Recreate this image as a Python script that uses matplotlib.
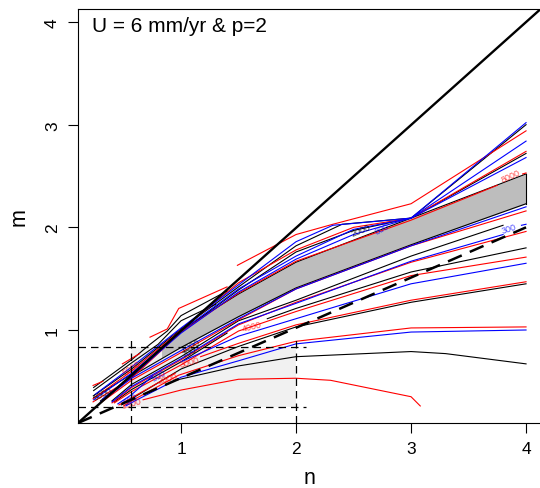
import matplotlib
matplotlib.use('Agg')
import matplotlib.pyplot as plt

plt.rcParams['font.family'] = ['Liberation Sans', 'DejaVu Sans']
nan = float('nan')

# lines that bunch up at n=3 and fan out again
red_a_n = [0.235, 0.32, nan, 0.49, 0.64, nan, 0.73, 0.88, 0.98, 1.4]
red_a_m = [0.46, 0.50, nan, 0.67, 0.77, nan, 0.93, 1.01, 1.21, 1.42]
black_a_n = [0.24, 0.57, 0.73, 0.88, 1.0, 1.4]
black_a_m = [0.44, 0.71, 0.86, 0.99, 1.14, 1.38]
black_c_n = [0.24, 0.57, 0.8, 1.0, 1.3]
black_c_m = [0.41, 0.68, 0.86, 1.09, 1.25]
red_b_n = [1.49, 2.0, 2.32, 3.0, 4.0]
red_b_m = [1.63, 1.93, 2.03, 2.23, 2.94]
blue_a_n = [0.25, 0.57, 1.0, 1.5, 2.0, 2.32, 3.0, 4.0]
blue_a_m = [0.37, 0.64, 1.02, 1.44, 1.86, 2.02, 2.09, 3.02]
black_d_n = [0.24, 0.57, 1.0, 1.5, 2.0, 2.4, 3.0, 4.0]
black_d_m = [0.36, 0.62, 1.01, 1.42, 1.82, 2.03, 2.09, 3.0]
red_c_n = [0.235, 0.57, 1.0, 1.5, 2.0, 2.5, 3.0, 4.0]
red_c_m = [0.33, 0.60, 1.0, 1.46, 1.78, 2.0, 2.09, 2.74]
blue_b_n = [0.24, 0.57, 1.0, 1.5, 2.0, 2.5, 3.0, 4.0]
blue_b_m = [0.32, 0.58, 0.99, 1.40, 1.72, 1.98, 2.09, 2.84]
black_e_n = [0.24, 0.57, 1.0, 1.5, 2.0, 2.5, 3.0, 4.0]
black_e_m = [0.34, 0.57, 0.98, 1.39, 1.76, 1.97, 2.09, 2.72]
blue_c_n = [0.32, 0.57, 1.0, 1.5, 2.0, 2.5, 3.0, 4.0]
blue_c_m = [0.33, 0.55, 0.97, 1.37, 1.69, 1.93, 2.09, 2.68]
black_band_top_n = [0.32, 0.57, 1.0, 1.5, 2.0, 3.0, 4.0]
black_band_top_m = [0.32, 0.54, 1.0, 1.35, 1.66, 2.09, 2.52]
red_top_n = [0.235, 0.57, 1.0, 1.5, 2.0, 3.0, 3.75, nan, 3.97, 4.0]
red_top_m = [0.30, 0.53, 0.98, 1.36, 1.67, 2.07, 2.41, nan, 2.52, 2.53]

# lines along the lower edge of the grey band and below it
black_band_low_n = [0.3, 0.57, 1.0, 1.5, 2.0, 3.0, 4.0]
black_band_low_m = [0.31, 0.55, 0.83, 1.13, 1.41, 1.83, 2.23]
blue_g_n = [0.3, 0.57, 1.0, 1.5, 2.0, 3.0, 4.0]
blue_g_m = [0.30, 0.53, 0.80, 1.11, 1.40, 1.82, 2.20]
red_g_n = [0.3, 0.57, 1.0, 1.5, 2.0, 3.0, 4.0]
red_g_m = [0.29, 0.51, 0.78, 1.10, 1.40, 1.82, 2.16]
black_h_n = [0.4, 0.57, 1.0, 1.5, 2.0, 3.0, 3.8, nan, 4.0]
black_h_m = [0.31, 0.47, 0.74, 1.09, 1.29, 1.72, 2.02, nan, 2.06]
blue_h_n = [0.4, 0.57, 1.0, 1.5, 2.0, 3.0, 3.8, nan, 3.96, 4.0]
blue_h_m = [0.30, 0.45, 0.72, 1.06, 1.26, 1.67, 1.93, nan, 2.02, 2.03]
red_h_n = [0.4, 0.57, 1.0, 1.5, 2.0, 3.0, 4.0]
red_h_m = [0.29, 0.44, 0.71, 1.05, 1.27, 1.66, 1.96]
black_i_n = [0.42, 0.57, 1.0, 1.4, nan, 1.75, 2.0, 3.0, 4.0]
black_i_m = [0.30, 0.42, 0.69, 0.97, nan, 1.11, 1.21, 1.565, 1.80]
red_i_n = [0.42, 0.57, 1.0, 1.5, 2.0, 3.0, 4.0]
red_i_m = [0.29, 0.40, 0.66, 0.99, 1.18, 1.53, 1.71]
blue_i_n = [0.45, 0.57, 0.75, nan, 1.0, 1.5, 2.0, 3.0, 4.0]
blue_i_m = [0.28, 0.37, 0.55, nan, 0.69, 0.94, 1.11, 1.45, 1.65]
red_j_n = [0.46, 0.57, 0.95, nan, 1.17, 1.5, 2.0, 3.0, 4.0]
red_j_m = [0.27, 0.34, 0.58, nan, 0.74, 0.87, 1.05, 1.29, 1.47]
black_j_n = [0.48, 0.57, 1.0, 1.5, 2.0, 3.0, 4.0]
black_j_m = [0.27, 0.33, 0.62, 0.84, 1.03, 1.27, 1.45]
red_k_n = [0.5, 0.57, 0.98, 1.5, 2.0, 3.0, 4.0]
red_k_m = [0.26, 0.31, 0.56, 0.75, 0.89, 1.02, 1.03]
blue_k_n = [0.52, 0.6, 1.0, 1.5, 2.0, 3.0, 4.0]
blue_k_m = [0.26, 0.31, 0.54, 0.70, 0.865, 0.98, 1.0]
black_l_n = [0.95, 1.5, 2.0, 3.0, 3.3, 4.0]
black_l_m = [0.51, 0.65, 0.74, 0.79, 0.77, 0.67]
red_l_n = [0.67, 1.0, 1.5, 2.0, 2.3, 3.0, 3.08]
red_l_m = [0.32, 0.415, 0.52, 0.53, 0.51, 0.35, 0.26]

band_top_n = [0.83, 1.0, 1.5, 2.0, 3.0, 4.0]
band_top_m = [0.83, 1.0, 1.35, 1.66, 2.09, 2.52]
band_low_m = [0.73, 0.83, 1.13, 1.41, 1.83, 2.23]

ref_n = [0.104, 4.12]
one_to_one_m = [0.094, 4.12]
half_n = [0.104, 4.0]
half_m = [0.094, 2.0]

box_n = [0.565, 2.0]
box_m = [0.25, 0.835]

label_text = ['8000', '300', '2000', '800', '4000', '3000', '2000', '500', '700', '1000', '5000', '1500', '500', '5000']
label_n = [3.87, 3.85, 2.56, 2.75, 1.62, 1.07, 0.88, 0.81, 1.07, 1.08, 0.57, 0.57, 0.56, 0.32]
label_m = [2.50, 1.99, 1.97, 1.99, 1.04, 0.69, 0.53, 0.56, 0.79, 0.85, 0.63, 0.29, 0.33, 0.38]
label_rot = [24, 18, 22, 28, 14, 16, 14, 30, 25, 25, 32, 15, 32, 25]
label_col = ['red', 'blue', 'black', 'blue', 'red', 'red', 'red', 'blue', 'black', 'black', 'red', 'red', 'blue', 'black']

red_lines = [(red_a_n, red_a_m), (red_b_n, red_b_m), (red_c_n, red_c_m), (red_top_n, red_top_m),
             (red_g_n, red_g_m), (red_h_n, red_h_m), (red_i_n, red_i_m), (red_j_n, red_j_m),
             (red_k_n, red_k_m), (red_l_n, red_l_m)]
blue_lines = [(blue_a_n, blue_a_m), (blue_b_n, blue_b_m), (blue_c_n, blue_c_m), (blue_g_n, blue_g_m),
              (blue_h_n, blue_h_m), (blue_i_n, blue_i_m), (blue_k_n, blue_k_m)]
black_lines = [(black_a_n, black_a_m), (black_c_n, black_c_m), (black_d_n, black_d_m), (black_e_n, black_e_m),
               (black_band_top_n, black_band_top_m), (black_band_low_n, black_band_low_m),
               (black_h_n, black_h_m), (black_i_n, black_i_m), (black_j_n, black_j_m), (black_l_n, black_l_m)]

fig = plt.figure(figsize=(5.4, 4.89), dpi=100)
ax = fig.add_axes([78 / 540, 1 - 424 / 489, 463 / 540, 414 / 489])

ax.fill_between(box_n, box_m[0], box_m[1], color='#f1f1f1', lw=0, zorder=1)
ax.fill_between(band_top_n, band_low_m, band_top_m, color='#bdbdbd', lw=0, zorder=2)
ax.plot([4, 4], [band_low_m[-1], band_top_m[-1]], color='black', lw=0.8, zorder=3)

for n, m in black_lines:
    ax.plot(n, m, color='black', lw=0.8, zorder=3)
for n, m in red_lines:
    ax.plot(n, m, color='red', lw=0.8, zorder=3)
for n, m in blue_lines:
    ax.plot(n, m, color='blue', lw=0.8, zorder=3)

for t, x, y, r, c in zip(label_text, label_n, label_m, label_rot, label_col):
    ax.text(x, y, t, color=c, fontsize=6.5, rotation=r, ha='center', va='center', alpha=0.7, zorder=4)

ax.plot(ref_n, one_to_one_m, color='black', lw=1.7, zorder=5)
ax.plot(half_n, half_m, color='black', lw=1.8, dashes=(6, 3.5), zorder=5)

# dashed guide lines
ax.plot([0.104, 2.09], [box_m[1], box_m[1]], color='black', lw=0.9, dashes=(6, 4), zorder=5)
ax.plot([0.104, 2.09], [box_m[0], box_m[0]], color='black', lw=0.9, dashes=(6, 4), zorder=5)
ax.plot([box_n[0], box_n[0]], [0.094, 0.92], color='black', lw=0.9, dashes=(6, 4), zorder=5)
ax.plot([box_n[1], box_n[1]], [0.094, 0.93], color='black', lw=0.9, dashes=(6, 4), zorder=5)

ax.set_xlim(0.104, 4.13)
ax.set_ylim(0.094, 4.127)
ax.set_xticks([1, 2, 3, 4])
ax.set_yticks([1, 2, 3, 4])
ax.tick_params(axis='both', length=7, width=0.8, labelsize=12.5, pad=6)
plt.setp(ax.get_yticklabels(), rotation=90, va='center')
ax.set_xlabel('n', fontsize=15.5, labelpad=8)
ax.set_ylabel('m', fontsize=15.5, labelpad=11)
ax.text(92 / 540, 1 - 27 / 489, 'U = 6 mm/yr & p=2', fontsize=15, va='center', transform=fig.transFigure)

fig.savefig('out.png', dpi=100)
